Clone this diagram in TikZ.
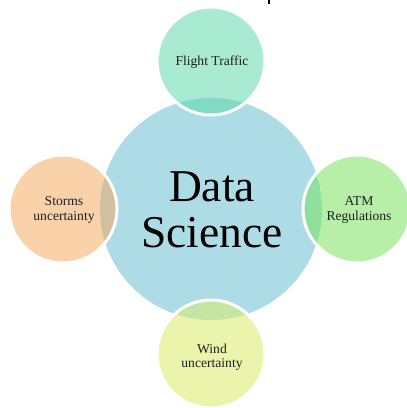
\documentclass[tikz,border=0pt]{standalone}
\usepackage{fontspec}
\setmainfont{Liberation Serif}
\definecolor{bigc}{HTML}{ADDCE6}
\definecolor{topc}{HTML}{A9EAD2}
\definecolor{topo}{HTML}{80DAC5}
\definecolor{leftc}{HTML}{F9D2AA}
\definecolor{lefto}{HTML}{D0C0A0}
\definecolor{rightc}{HTML}{B7EFA9}
\definecolor{righto}{HTML}{8EE09C}
\definecolor{botc}{HTML}{EAF4AB}
\definecolor{boto}{HTML}{C6E5A2}
\tikzset{
  smalltext/.style={font=\fontsize{13.6}{14.5}\selectfont, align=center, text=black!88},
  ring/.style={draw=white, line width=3pt},
}
\begin{document}
\begin{tikzpicture}[x=1pt,y=-1pt]
\useasboundingbox (0,0) rectangle (407,408);
% central circle
\node (ds) [circle, fill=bigc, minimum size=222pt, inner sep=0pt] at (211,209) {};
% satellite centres
\coordinate (ft) at (211,61);
\coordinate (sc) at (63,209);
\coordinate (atm) at (357,209);
\coordinate (wu) at (211,354);
% fills
\foreach \c/\fc/\oc in {ft/topc/topo, sc/leftc/lefto, atm/rightc/righto, wu/botc/boto}{
  \fill[\fc] (\c) circle (54pt);
  \begin{scope}
    \clip (ds.center) circle (111pt);
    \fill[\oc] (\c) circle (54pt);
  \end{scope}
  \draw[ring] (\c) circle (54pt);
}
% texts
\node (dstext) [font=\fontsize{45.5}{46}\selectfont, align=center, text=black] at (212,210) {Data\\Science};
\node (fttext) [smalltext] at (212,62) {Flight Traffic};
\node (sctext) [smalltext] at (64,210) {Storms\\uncertainty};
\node (atmtext) [smalltext] at (359,210) {ATM\\Regulations};
\node (wutext) [smalltext] at (212,357) {Wind\\uncertainty};
% tiny fragment of cropped text at top edge
\coordinate (fragtop) at (269,0);
\coordinate (fragbot) at (269,3.5);
\draw[black, line width=1.3pt] (fragtop) -- (fragbot);
\end{tikzpicture}
\end{document}
